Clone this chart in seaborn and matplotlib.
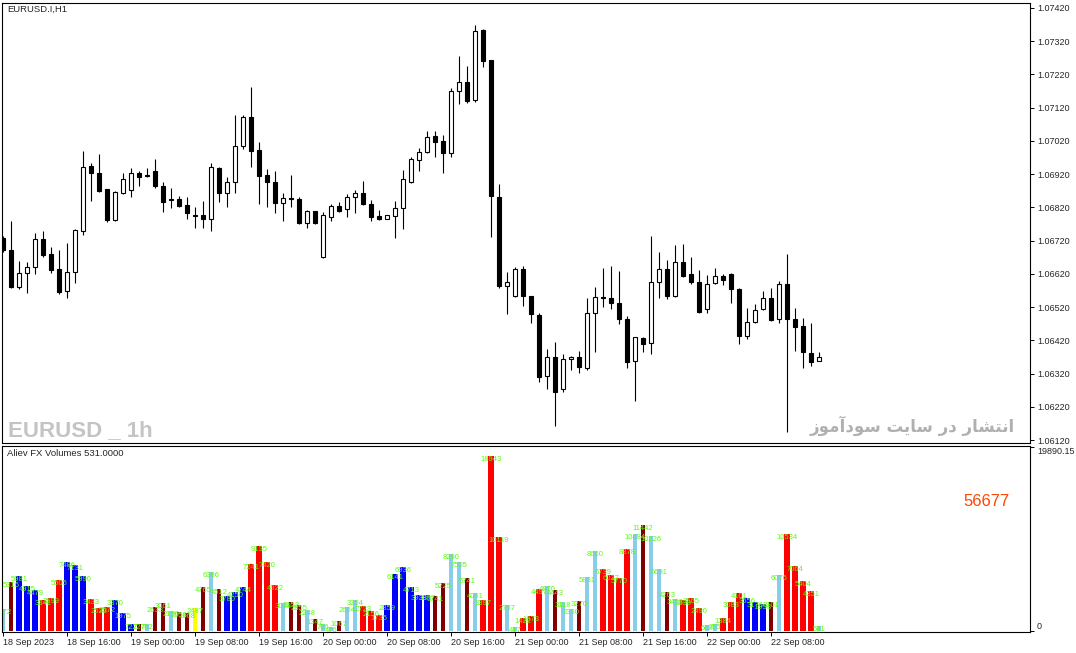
import numpy as np
import pandas as pd
import seaborn as sns
import matplotlib.pyplot as plt
from matplotlib import font_manager

# EURUSD.I H1 candles, 18-22 Sep 2023
opens = [
    1.06728, 1.06692, 1.06580, 1.06622, 1.06640, 1.06725, 1.06680, 1.06634, 1.06568, 1.06625,
    1.06749, 1.06944, 1.06923, 1.06875, 1.06782, 1.06863, 1.06872, 1.06923, 1.06917, 1.06929,
    1.06884, 1.06845, 1.06845, 1.06827, 1.06797, 1.06797, 1.06785, 1.06938, 1.06863, 1.06896,
    1.07005, 1.07092, 1.06993, 1.06917, 1.06896, 1.06833, 1.06848, 1.06845, 1.06773, 1.06809,
    1.06671, 1.06791, 1.06824, 1.06815, 1.06851, 1.06863, 1.06830, 1.06794, 1.06785, 1.06794,
    1.06818, 1.06896, 1.06963, 1.06987, 1.07035, 1.07020, 1.06984, 1.07170, 1.07197, 1.07143,
    1.07354, 1.07263, 1.06851, 1.06583, 1.06553, 1.06634, 1.06553, 1.06496, 1.06312, 1.06370,
    1.06273, 1.06363, 1.06370, 1.06336, 1.06502, 1.06550, 1.06547, 1.06532, 1.06484, 1.06357,
    1.06427, 1.06412, 1.06595, 1.06634, 1.06553, 1.06656, 1.06619, 1.06595, 1.06514, 1.06592,
    1.06613, 1.06619, 1.06574, 1.06433, 1.06475, 1.06514, 1.06547, 1.06484, 1.06589, 1.06484,
    1.06463, 1.06382, 1.06357,
]
highs = [
    1.06734, 1.06779, 1.06659, 1.06656, 1.06743, 1.06749, 1.06701, 1.06692, 1.06713, 1.06755,
    1.06990, 1.06953, 1.06981, 1.06875, 1.06869, 1.06923, 1.06938, 1.06929, 1.06938, 1.06966,
    1.06896, 1.06878, 1.06854, 1.06851, 1.06821, 1.06839, 1.06953, 1.06941, 1.06911, 1.07098,
    1.07098, 1.07182, 1.07017, 1.06935, 1.06929, 1.06863, 1.06917, 1.06851, 1.06812, 1.06809,
    1.06806, 1.06830, 1.06836, 1.06860, 1.06872, 1.06899, 1.06842, 1.06812, 1.06797, 1.06839,
    1.06932, 1.06972, 1.06999, 1.07050, 1.07050, 1.07038, 1.07179, 1.07276, 1.07245, 1.07369,
    1.07357, 1.07263, 1.06890, 1.06625, 1.06640, 1.06643, 1.06553, 1.06502, 1.06394, 1.06415,
    1.06379, 1.06373, 1.06388, 1.06547, 1.06580, 1.06637, 1.06643, 1.06628, 1.06493, 1.06430,
    1.06430, 1.06734, 1.06686, 1.06662, 1.06707, 1.06710, 1.06671, 1.06631, 1.06616, 1.06637,
    1.06619, 1.06622, 1.06577, 1.06517, 1.06529, 1.06568, 1.06577, 1.06598, 1.06680, 1.06517,
    1.06487, 1.06472, 1.06385,
]
lows = [
    1.06686, 1.06577, 1.06574, 1.06562, 1.06619, 1.06671, 1.06622, 1.06559, 1.06547, 1.06592,
    1.06737, 1.06839, 1.06866, 1.06776, 1.06779, 1.06860, 1.06851, 1.06884, 1.06911, 1.06878,
    1.06806, 1.06818, 1.06821, 1.06785, 1.06758, 1.06758, 1.06749, 1.06836, 1.06821, 1.06863,
    1.06996, 1.06941, 1.06830, 1.06821, 1.06803, 1.06779, 1.06821, 1.06770, 1.06758, 1.06770,
    1.06668, 1.06779, 1.06806, 1.06791, 1.06803, 1.06827, 1.06779, 1.06782, 1.06785, 1.06728,
    1.06755, 1.06893, 1.06929, 1.06984, 1.06972, 1.06923, 1.06972, 1.07131, 1.07134, 1.07137,
    1.07242, 1.06731, 1.06577, 1.06499, 1.06550, 1.06523, 1.06472, 1.06294, 1.06273, 1.06162,
    1.06264, 1.06330, 1.06321, 1.06330, 1.06385, 1.06520, 1.06514, 1.06469, 1.06336, 1.06237,
    1.06385, 1.06379, 1.06547, 1.06544, 1.06550, 1.06610, 1.06589, 1.06502, 1.06502, 1.06589,
    1.06586, 1.06532, 1.06409, 1.06424, 1.06472, 1.06511, 1.06478, 1.06472, 1.06144, 1.06388,
    1.06336, 1.06342, 1.06357,
]
closes = [
    1.06692, 1.06580, 1.06622, 1.06640, 1.06725, 1.06677, 1.06631, 1.06565, 1.06625, 1.06752,
    1.06941, 1.06923, 1.06869, 1.06782, 1.06866, 1.06905, 1.06923, 1.06911, 1.06914, 1.06884,
    1.06836, 1.06842, 1.06824, 1.06803, 1.06794, 1.06785, 1.06941, 1.06863, 1.06896, 1.07005,
    1.07092, 1.06990, 1.06914, 1.06896, 1.06833, 1.06848, 1.06845, 1.06773, 1.06809, 1.06773,
    1.06797, 1.06824, 1.06809, 1.06851, 1.06863, 1.06830, 1.06791, 1.06785, 1.06797, 1.06818,
    1.06905, 1.06966, 1.06987, 1.07032, 1.07017, 1.06984, 1.07170, 1.07197, 1.07140, 1.07351,
    1.07260, 1.06854, 1.06583, 1.06595, 1.06634, 1.06553, 1.06499, 1.06309, 1.06370, 1.06264,
    1.06363, 1.06370, 1.06339, 1.06502, 1.06550, 1.06547, 1.06532, 1.06484, 1.06354, 1.06430,
    1.06409, 1.06595, 1.06634, 1.06553, 1.06656, 1.06613, 1.06595, 1.06505, 1.06589, 1.06613,
    1.06601, 1.06574, 1.06433, 1.06475, 1.06511, 1.06547, 1.06481, 1.06589, 1.06484, 1.06460,
    1.06385, 1.06354, 1.06370,
]

# Aliev FX Volumes indicator
volumes = [
    2372, 5316, 5981, 4915, 4479, 3341, 3599, 5505, 7486, 7131,
    5990, 3433, 2523, 2572, 3370, 1975, 722, 727, 762, 2633,
    3061, 2120, 2058, 1968, 2487, 4765, 6386, 4512, 3780, 4250,
    4744, 7241, 9135, 7420, 4922, 3038, 3153, 2855, 2248, 1347,
    706, 476, 1067, 2604, 3354, 2723, 2156, 1735, 2859, 6141,
    6936, 4713, 3938, 3887, 3741, 5225, 8290, 7505, 5741, 4061,
    3397, 18943, 10119, 2757, 417, 1422, 1673, 4497, 4870, 4443,
    3118, 2360, 3270, 5831, 8660, 6739, 6037, 5770, 8878, 10484,
    11442, 10226, 6691, 4263, 3408, 3339, 3565, 2490, 668, 705,
    1384, 3083, 4101, 3556, 3176, 2953, 3101, 6076, 10534, 7064,
    5404, 4351, 531,
]
vol_kinds = [
    'sky', 'maroon', 'blue', 'blue', 'blue', 'red', 'red', 'red', 'blue', 'blue',
    'blue', 'red', 'red', 'red', 'blue', 'blue', 'blue', 'maroon', 'sky', 'maroon',
    'maroon', 'sky', 'maroon', 'maroon', 'yellow', 'maroon', 'sky', 'maroon', 'blue', 'blue',
    'blue', 'red', 'red', 'red', 'red', 'sky', 'maroon', 'maroon', 'sky', 'maroon',
    'sky', 'sky', 'maroon', 'sky', 'sky', 'red', 'red', 'red', 'blue', 'blue',
    'blue', 'blue', 'blue', 'blue', 'maroon', 'maroon', 'sky', 'sky', 'maroon', 'sky',
    'red', 'red', 'red', 'sky', 'sky', 'red', 'red', 'red', 'sky', 'maroon',
    'sky', 'sky', 'maroon', 'sky', 'sky', 'red', 'red', 'red', 'red', 'sky',
    'maroon', 'sky', 'sky', 'maroon', 'sky', 'red', 'red', 'red', 'sky', 'sky',
    'red', 'red', 'red', 'blue', 'blue', 'blue', 'maroon', 'sky', 'red', 'red',
    'red', 'red', 'sky',
]

time_labels = ['18 Sep 2023', '18 Sep 16:00', '19 Sep 00:00', '19 Sep 08:00', '19 Sep 16:00',
               '20 Sep 00:00', '20 Sep 08:00', '20 Sep 16:00', '21 Sep 00:00', '21 Sep 08:00',
               '21 Sep 16:00', '22 Sep 00:00', '22 Sep 08:00']
price_ticks = [1.07420, 1.07320, 1.07220, 1.07120, 1.07020, 1.06920, 1.06820,
               1.06720, 1.06620, 1.06520, 1.06420, 1.06320, 1.06220, 1.06120]
vol_ticks = [0, 19890.15]

# "انتشار در سایت سودآموز" - written in presentation forms, visual order,
# because matplotlib does no arabic shaping itself
fa_text = ('\uFEAF\uFEEE\uFEE3\uFE81\uFEA9\uFEEE\uFEB3 \uFE96\uFEF3\uFE8E\uFEB3 '
           '\uFEAD\uFEA9 \uFEAD\uFE8E\uFEB8\uFE98\uFEE7\uFE8D')

sns.set_style("white")
plt.rcParams['font.family'] = ['Liberation Sans', 'DejaVu Sans']
plt.rcParams['axes.linewidth'] = 0.8

# the watermark is in a narrow bold face, take one if the system has it
font_names = {f.name for f in font_manager.fontManager.ttflist}
narrow_font = None
for name in ['Liberation Sans Narrow', 'Nimbus Sans Narrow', 'Arial Narrow']:
    if name in font_names:
        narrow_font = name
        break

df = pd.DataFrame({'open': opens, 'high': highs, 'low': lows, 'close': closes})
df['bar'] = np.arange(len(df))
df['vol'] = volumes
df['kind'] = vol_kinds

fig = plt.figure(figsize=(10.76, 6.53), dpi=100)
W, H = 1076, 653
ax = fig.add_axes([2 / W, 1 - 443 / H, 1028 / W, 440 / H])
axv = fig.add_axes([2 / W, 1 - 632 / H, 1028 / W, 186 / H], sharex=ax)

# candles
up = df['close'] >= df['open']
ax.vlines(df['bar'], df['low'], df['high'], color='black', linewidth=0.8, zorder=1)
body_bottom = np.minimum(df['open'], df['close'])
body_height = (df['close'] - df['open']).abs()
ax.bar(df['bar'], body_height, bottom=body_bottom, width=0.6,
       color=np.where(up, 'white', 'black'), edgecolor='black', linewidth=0.8, zorder=2)

# volume bars, wide and narrow ones
palette = {'blue': '#0000FF', 'red': '#FF0000', 'maroon': '#800000',
           'sky': '#87CEEB', 'yellow': '#FFFF00'}
wide = df[df['kind'].isin(['blue', 'red'])]
narrow = df[~df['kind'].isin(['blue', 'red'])]
sns.barplot(data=wide, x='bar', y='vol', hue='kind', palette=palette, native_scale=True,
            width=0.85, dodge=False, errorbar=None, saturation=1, legend=False,
            linewidth=0, ax=axv)
sns.barplot(data=narrow, x='bar', y='vol', hue='kind', palette=palette, native_scale=True,
            width=0.42, dodge=False, errorbar=None, saturation=1, legend=False,
            linewidth=0, ax=axv)
for b, v in zip(df['bar'], df['vol']):
    axv.text(b, v, str(v), ha='center', va='top', color='#55FF00', fontsize=5.5,
             clip_on=True, zorder=5)

ax.set_xlim(-0.125, 128.375)
ax.set_ylim(1.06111, 1.07435)
axv.set_ylim(-108, 19998)

for a in (ax, axv):
    for s in a.spines.values():
        s.set_color('black')
        s.set_linewidth(0.8)
    a.set_xlabel('')
    a.set_ylabel('')
    a.yaxis.tick_right()
    a.tick_params(axis='y', right=True, left=False, labelright=True, labelleft=False,
                  direction='out', length=3, width=0.7, color='black', pad=2, labelsize=6.5)

ax.set_yticks(price_ticks)
ax.set_yticklabels([f'{p:.5f}' for p in price_ticks])
ax.tick_params(axis='x', bottom=False, labelbottom=False)

axv.set_yticks(vol_ticks)
axv.set_yticklabels(['0', '19890.15'])
ylabs = axv.get_yticklabels()
ylabs[0].set_va('bottom')
ylabs[1].set_va('top')

axv.set_xticks(np.arange(0, len(df), 8))
axv.set_xticklabels(time_labels, ha='left')
axv.tick_params(axis='x', bottom=True, direction='out', length=3, width=0.7,
                color='black', pad=1.5, labelsize=6.5)
axv.set_xlim(-0.125, 128.375)

fig.text(7 / W, 1 - 5 / H, 'EURUSD.I,H1', ha='left', va='top', fontsize=6.8)
fig.text(7 / W, 1 - 449 / H, 'Aliev FX Volumes 531.0000', ha='left', va='top', fontsize=6.8)
fig.text(1010 / W, 1 - 501 / H, '56677', ha='right', va='center', fontsize=12, color='#FF4500')
if narrow_font:
    fig.text(8 / W, 1 - 436 / H, 'EURUSD _ 1h', ha='left', va='baseline', fontsize=19,
             fontweight='bold', color='#C4C4C4', family=[narrow_font, 'DejaVu Sans'])
else:
    fig.text(8 / W, 1 - 436 / H, 'EURUSD _ 1h', ha='left', va='baseline', fontsize=16,
             fontweight='bold', color='#C4C4C4', family=['Liberation Sans', 'DejaVu Sans'])
fig.text(1015 / W, 1 - 432 / H, fa_text, ha='right', va='baseline', fontsize=12,
         fontweight='bold', color='#B0B0B0', family=['DejaVu Sans'])

fig.savefig('out.png', dpi=100)
